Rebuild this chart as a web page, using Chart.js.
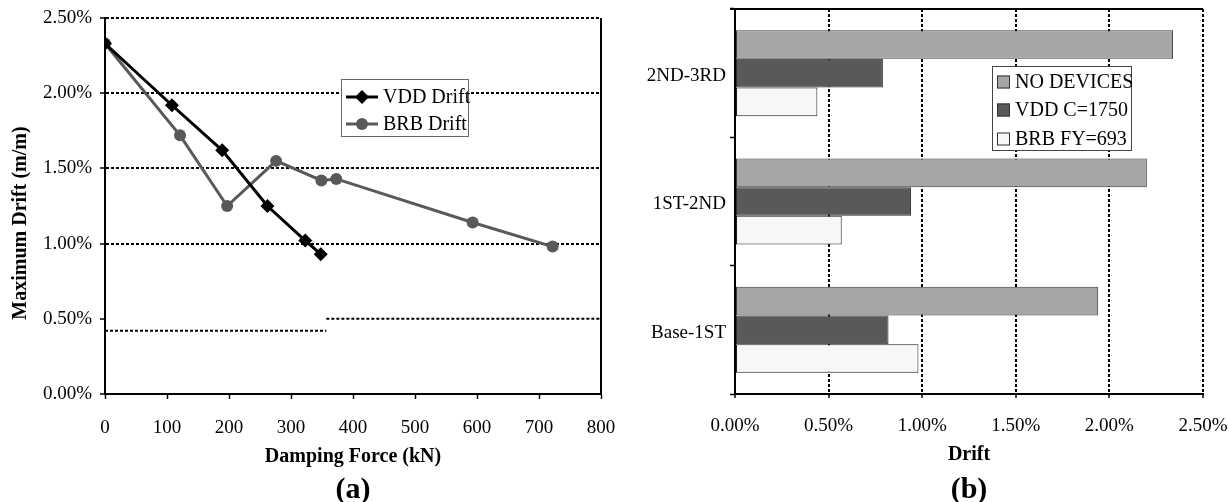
<!DOCTYPE html>
<html><head><meta charset="utf-8">
<script src="https://cdn.jsdelivr.net/npm/chart.js@4.4.0/dist/chart.umd.min.js"></script>
<style>
html,body{margin:0;padding:0;background:#fff;width:1229px;height:502px;overflow:hidden}
#wa{position:absolute;left:0;top:0;width:615px;height:502px}
#wb{position:absolute;left:615px;top:0;width:614px;height:502px}
</style></head><body>
<div id="wa"><canvas id="ca" width="615" height="502"></canvas></div>
<div id="wb"><canvas id="cb" width="614" height="502"></canvas></div>
<script>
// ---- chart (a) data ----
const vddForce = [0, 108, 189, 262, 323, 348];
const vddDrift = [2.33, 1.92, 1.62, 1.25, 1.02, 0.93];
const brbForce = [0, 121, 197, 276, 349, 373, 593, 722];
const brbDrift = [2.33, 1.72, 1.25, 1.55, 1.42, 1.43, 1.14, 0.98];
const refLowForce = [0, 357];
const refLowDrift = [0.42, 0.42];
const refHighForce = [357, 800];
const refHighDrift = [0.50, 0.50];
// ---- chart (b) data ----
const storyLevels = ['2ND-3RD', '1ST-2ND', 'Base-1ST'];
const noDevices = [2.34, 2.20, 1.94];
const vddC1750 = [0.79, 0.94, 0.82];
const brbFy693 = [0.44, 0.57, 0.98];

const pts = (xs, ys) => xs.map((x, i) => ({x: x, y: ys[i]}));
const pct = v => Number(v).toFixed(2) + '%';

Chart.defaults.font.family = "'Liberation Serif','Times New Roman',serif";
Chart.defaults.color = '#000';

const frame = {
  id: 'frame',
  afterDatasetsDraw(chart, args, o) {
    const a = chart.chartArea, ctx = chart.ctx;
    ctx.save();
    ctx.strokeStyle = '#000';
    if (o.top) { ctx.lineWidth = o.top; ctx.beginPath(); ctx.moveTo(a.left - (o.topExtend || 0), a.top); ctx.lineTo(a.right, a.top); ctx.stroke(); }
    if (o.right) { ctx.lineWidth = o.right; ctx.beginPath(); ctx.moveTo(a.right, a.top); ctx.lineTo(a.right, a.bottom); ctx.stroke(); }
    ctx.restore();
  }
};

const boxLegend = {
  id: 'boxLegend',
  afterDraw(chart, args, o) {
    if (!o.show) return;
    const ctx = chart.ctx;
    ctx.save();
    ctx.fillStyle = '#fff';
    ctx.fillRect(o.x, o.y, o.w, o.h);
    ctx.strokeStyle = o.borderColor;
    ctx.lineWidth = 1;
    ctx.strokeRect(o.x + 0.5, o.y + 0.5, o.w, o.h);
    ctx.font = o.fontSize + "px 'Liberation Serif','Times New Roman',serif";
    ctx.textBaseline = 'middle';
    ctx.textAlign = 'left';
    const items = chart.data.datasets.filter(d => d.inLegend !== false);
    items.forEach((d, i) => {
      const cy = o.rowY[i];
      if (o.kind === 'line') {
        ctx.strokeStyle = d.borderColor; ctx.lineWidth = d.borderWidth;
        ctx.beginPath(); ctx.moveTo(o.symX, cy); ctx.lineTo(o.symX + o.symW, cy); ctx.stroke();
        ctx.fillStyle = d.backgroundColor;
        ctx.beginPath();
        const c = o.symX + o.symW / 2;
        if (d.pointStyle === 'circle') { ctx.arc(c, cy, 6, 0, Math.PI * 2); }
        else { ctx.moveTo(c, cy - 7); ctx.lineTo(c + 7, cy); ctx.lineTo(c, cy + 7); ctx.lineTo(c - 7, cy); ctx.closePath(); }
        ctx.fill();
      } else {
        ctx.fillStyle = d.backgroundColor;
        ctx.fillRect(o.symX, cy - o.symW / 2, o.symW, o.symW);
        ctx.strokeStyle = '#333'; ctx.lineWidth = 1;
        ctx.strokeRect(o.symX + 0.5, cy - o.symW / 2 + 0.5, o.symW - 1, o.symW - 1);
      }
      ctx.fillStyle = '#000';
      ctx.fillText(d.label, o.textX, cy + 1);
    });
    ctx.restore();
  }
};

const sideTitle = {
  id: 'sideTitle',
  afterDraw(chart, args, o) {
    if (!o.text) return;
    const ctx = chart.ctx;
    ctx.save();
    ctx.translate(o.x, o.y);
    ctx.rotate(-Math.PI / 2);
    ctx.font = 'bold ' + o.fontSize + "px 'Liberation Serif','Times New Roman',serif";
    ctx.fillStyle = '#000';
    ctx.textAlign = 'center';
    ctx.textBaseline = 'middle';
    ctx.fillText(o.text, 0, 0);
    ctx.restore();
  }
};

const fitX = h => function (s) { s.height = h; s.paddingLeft = 0; s.paddingRight = 0; };
const fitY = w => function (s) { s.width = w; s.paddingTop = 0; s.paddingBottom = 0; };

// ---- chart (a) ----
new Chart(document.getElementById('ca'), {
  type: 'line',
  data: {
    datasets: [
      {label: 'VDD Drift', data: pts(vddForce, vddDrift), borderColor: '#000', backgroundColor: '#000',
       borderWidth: 3, pointStyle: 'rectRot', pointRadius: 7, pointBorderWidth: 0, tension: 0},
      {label: 'BRB Drift', data: pts(brbForce, brbDrift), borderColor: '#595959', backgroundColor: '#595959',
       borderWidth: 3, pointStyle: 'circle', pointRadius: 6, pointBorderWidth: 0, tension: 0},
      {label: 'ref-low', inLegend: false, data: pts(refLowForce, refLowDrift), borderColor: '#000',
       borderWidth: 2, borderDash: [3, 2], pointRadius: 0},
      {label: 'ref-high', inLegend: false, data: pts(refHighForce, refHighDrift), borderColor: '#000',
       borderWidth: 2, borderDash: [3, 2], pointRadius: 0}
    ]
  },
  options: {
    animation: false, responsive: false, devicePixelRatio: 1,
    layout: {padding: {top: 18, right: 14, left: 0, bottom: 0}},
    scales: {
      x: {
        type: 'linear', min: 0, max: 800,
        ticks: {stepSize: 100, padding: 18, font: {size: 19}, color: '#000', maxRotation: 0},
        grid: {drawOnChartArea: false, tickLength: 5, tickColor: '#000', tickWidth: 1.5, tickBorderDash: []},
        border: {color: '#000', width: 2},
        title: {display: true, text: 'Damping Force (kN)', font: {size: 20, weight: 'bold'}, color: '#000', padding: {top: 0, bottom: 9}},
        afterFit: fitX(84)
      },
      y: {
        min: 0, max: 2.5,
        ticks: {stepSize: 0.5, callback: pct, padding: 8, font: {size: 19}, color: '#000'},
        grid: {
          color: c => (c.tick && (Math.abs(c.tick.value) < 1e-6 || Math.abs(c.tick.value - 0.5) < 1e-6)) ? 'rgba(0,0,0,0)' : '#000',
          lineWidth: 2, tickLength: 5, tickColor: '#000', tickWidth: 1.5, tickBorderDash: []
        },
        border: {color: '#000', width: 2, dash: [3, 2]},
        afterFit: fitY(105)
      }
    },
    plugins: {
      legend: {display: false}, tooltip: {enabled: false},
      title: {display: true, position: 'bottom', text: '(a)', fullSize: false, color: '#000',
              font: {size: 30, weight: 'bold', lineHeight: 0.8}, padding: 0},
      frame: {right: 2},
      boxLegend: {show: true, kind: 'line', x: 341, y: 79, w: 127, h: 57, borderColor: '#666',
                  fontSize: 20, symX: 346, symW: 32, textX: 383, rowY: [97, 124]},
      sideTitle: {text: 'Maximum Drift (m/m)', x: 21, y: 223, fontSize: 20}
    }
  },
  plugins: [frame, boxLegend, sideTitle]
});

// ---- chart (b) ----
new Chart(document.getElementById('cb'), {
  type: 'bar',
  data: {
    labels: storyLevels,
    datasets: [
      {label: 'NO DEVICES', data: noDevices, backgroundColor: '#a6a6a6', borderColor: '#3a3a3a', borderWidth: 1, borderSkipped: false},
      {label: 'VDD C=1750', data: vddC1750, backgroundColor: '#595959', borderColor: '#2a2a2a', borderWidth: 1, borderSkipped: false},
      {label: 'BRB FY=693', data: brbFy693, backgroundColor: '#f7f7f7', borderColor: '#1a1a1a', borderWidth: 1, borderSkipped: false}
    ]
  },
  options: {
    indexAxis: 'y',
    animation: false, responsive: false, devicePixelRatio: 1,
    datasets: {bar: {categoryPercentage: 0.67, barPercentage: 1}},
    layout: {padding: {top: 9, right: 26, left: 0, bottom: 0}},
    scales: {
      x: {
        min: 0, max: 2.5,
        ticks: {stepSize: 0.5, callback: pct, padding: 17, font: {size: 19}, color: '#000', maxRotation: 0},
        grid: {
          color: c => (c.tick && Math.abs(c.tick.value) < 1e-6) ? 'rgba(0,0,0,0)' : '#000',
          lineWidth: 2, tickLength: 4, tickColor: '#000', tickWidth: 1.5, tickBorderDash: []
        },
        border: {color: '#000', width: 2, dash: [3, 2]},
        title: {display: true, text: 'Drift', font: {size: 20, weight: 'bold'}, color: '#000', padding: {top: 0, bottom: 11}},
        afterFit: fitX(84)
      },
      y: {
        ticks: {padding: 4, font: {size: 19}, color: '#000', labelOffset: 3},
        grid: {drawOnChartArea: false, tickLength: 5, tickColor: '#000', tickWidth: 1.5, tickBorderDash: []},
        border: {color: '#000', width: 2},
        afterFit: fitY(120)
      }
    },
    plugins: {
      legend: {display: false}, tooltip: {enabled: false},
      title: {display: true, position: 'bottom', text: '(b)', fullSize: false, color: '#000',
              font: {size: 30, weight: 'bold', lineHeight: 0.8}, padding: 0},
      frame: {top: 2, topExtend: 5},
      boxLegend: {show: true, kind: 'box', x: 377, y: 66, w: 139, h: 84, borderColor: '#444',
                  fontSize: 20, symX: 382, symW: 13, textX: 400, rowY: [82, 110, 139]}
    }
  },
  plugins: [frame, boxLegend]
});
</script>
</body></html>
